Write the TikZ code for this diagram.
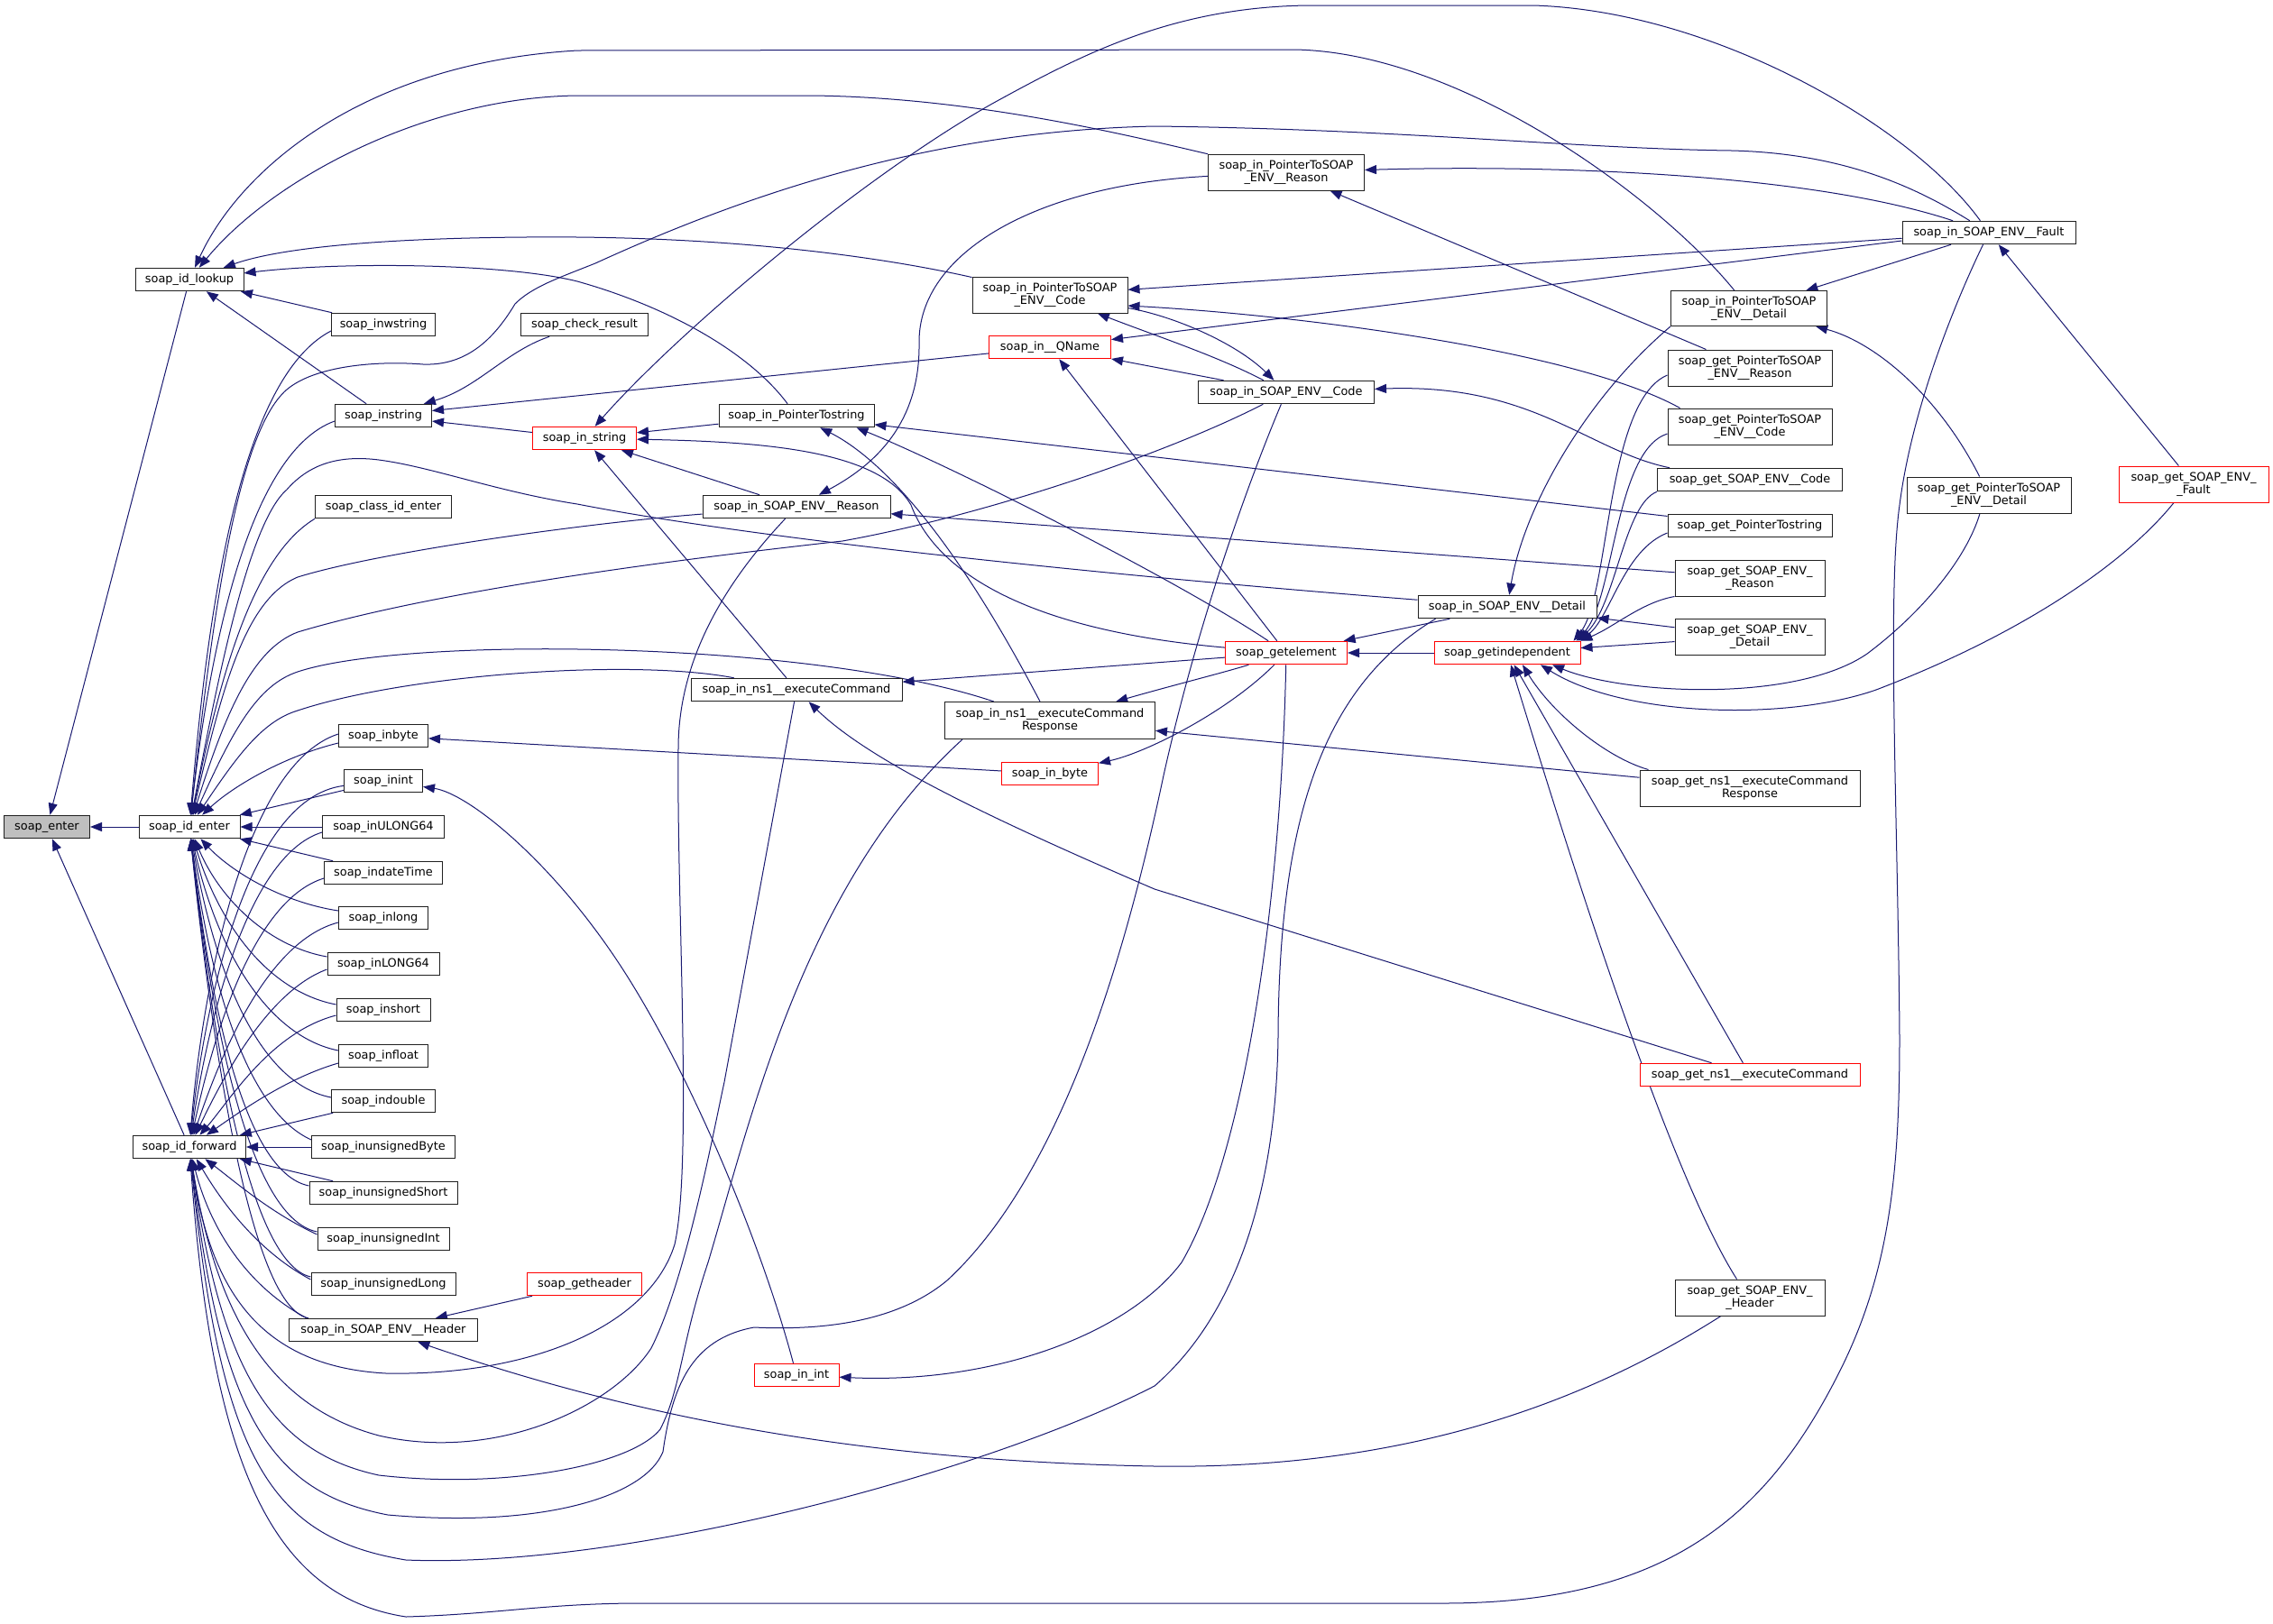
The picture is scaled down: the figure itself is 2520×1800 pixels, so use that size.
\documentclass[tikz,border=0pt]{standalone}
\usepackage{fontspec}
\setmainfont{DejaVu Sans}
\usetikzlibrary{arrows.meta}
\definecolor{ecol}{HTML}{191970}
\definecolor{gfill}{HTML}{BFBFBF}
\definecolor{bcol}{HTML}{202020}
\pgfdeclarelayer{bg}
\pgfsetlayers{bg,main}
\tikzset{
  fn/.style={draw=bcol, fill=white, line width=1pt, inner sep=0pt, minimum height=25.5pt, align=center, font=\fontsize{12.9}{14.5}\selectfont},
  fnt/.style={fn, minimum height=40pt},
  rd/.style={draw=red},
  edg/.style={draw=ecol, line width=1pt, {Triangle[length=13pt,width=10pt]}-},
}
\begin{document}
\begin{tikzpicture}[x=1pt,y=-1pt]
\useasboundingbox (0,0) rectangle (2520,1800);
% column 1-2
\node[fn,fill=gfill,minimum width=95pt] (enter) at (52,917) {soap\_enter};
\node[fn,minimum width=120pt] (lookup) at (210,310) {soap\_id\_lookup};
\node[fn,minimum width=112pt] (identer) at (210,917) {soap\_id\_enter};
\node[fn,minimum width=125pt] (idfwd) at (210,1272) {soap\_id\_forward};
% column 3
\node[fn,minimum width=115pt] (inwstring) at (425,360) {soap\_inwstring};
\node[fn,minimum width=107pt] (instring) at (425,461) {soap\_instring};
\node[fn,minimum width=151pt] (classid) at (425,562) {soap\_class\_id\_enter};
\node[fn,minimum width=99pt] (inbyte) at (425,816) {soap\_inbyte};
\node[fn,minimum width=87pt] (inint) at (425,866) {soap\_inint};
\node[fn,minimum width=135pt] (inULONG) at (425,917) {soap\_inULONG64};
\node[fn,minimum width=131pt] (indateTime) at (425,968) {soap\_indateTime};
\node[fn,minimum width=99pt] (inlong) at (425,1018) {soap\_inlong};
\node[fn,minimum width=124pt] (inLONG) at (425,1069) {soap\_inLONG64};
\node[fn,minimum width=104pt] (inshort) at (425,1120) {soap\_inshort};
\node[fn,minimum width=99pt] (infloat) at (425,1171) {soap\_infloat};
\node[fn,minimum width=115pt] (indouble) at (425,1221) {soap\_indouble};
\node[fn,minimum width=159pt] (inuByte) at (425,1272) {soap\_inunsignedByte};
\node[fn,minimum width=164pt] (inuShort) at (425,1323) {soap\_inunsignedShort};
\node[fn,minimum width=146pt] (inuInt) at (425,1374) {soap\_inunsignedInt};
\node[fn,minimum width=160pt] (inuLong) at (425,1424) {soap\_inunsignedLong};
\node[fn,minimum width=209pt] (inHeader) at (425,1475) {soap\_in\_SOAP\_ENV\_\_Header};
% column 4
\node[fn,minimum width=141pt] (checkres) at (648,360) {soap\_check\_result};
\node[fn,rd,minimum width=115pt] (instr) at (648,486) {soap\_in\_string};
\node[fn,rd,minimum width=127pt] (getheader) at (648,1424) {soap\_getheader};
% column 5
\node[fn,minimum width=172pt] (inPtrStr) at (883,461) {soap\_in\_PointerTostring};
\node[fn,minimum width=208pt] (inReason) at (883,562) {soap\_in\_SOAP\_ENV\_\_Reason};
\node[fn,minimum width=234pt] (inExec) at (883,765) {soap\_in\_ns1\_\_executeCommand};
\node[fn,rd,minimum width=94pt] (xInt) at (883,1525) {soap\_in\_int};
% column 6
\node[fnt,minimum width=172pt] (inPtrCode) at (1164,327) {soap\_in\_PointerToSOAP\\\_ENV\_\_Code};
\node[fn,rd,minimum width=135pt] (inQName) at (1164,385) {soap\_in\_\_QName};
\node[fnt,minimum width=233pt,minimum height=41pt] (inExecResp) at (1164,799) {soap\_in\_ns1\_\_executeCommand\\Response};
\node[fn,rd,minimum width=107pt] (xByte) at (1164,858) {soap\_in\_byte};
% column 7
\node[fnt,minimum width=173pt] (inPtrReason) at (1426,191) {soap\_in\_PointerToSOAP\\\_ENV\_\_Reason};
\node[fn,minimum width=195pt] (inCode) at (1426,435) {soap\_in\_SOAP\_ENV\_\_Code};
\node[fn,rd,minimum width=135pt] (getelem) at (1426,724) {soap\_getelement};
% column 8
\node[fn,minimum width=198pt] (inDetail) at (1671,673) {soap\_in\_SOAP\_ENV\_\_Detail};
\node[fn,rd,minimum width=162pt] (getindep) at (1671,724) {soap\_getindependent};
% column 9
\node[fnt,minimum width=173pt,minimum height=39pt] (inPtrDetail) at (1939,342) {soap\_in\_PointerToSOAP\\\_ENV\_\_Detail};
\node[fnt,minimum width=182pt] (getPtrReason) at (1940,408) {soap\_get\_PointerToSOAP\\\_ENV\_\_Reason};
\node[fnt,minimum width=182pt] (getPtrCode) at (1940,473) {soap\_get\_PointerToSOAP\\\_ENV\_\_Code};
\node[fn,minimum width=205pt] (getCode) at (1940,532) {soap\_get\_SOAP\_ENV\_\_Code};
\node[fn,minimum width=182pt] (getPtrStr) at (1940,583) {soap\_get\_PointerTostring};
\node[fnt,minimum width=166pt] (getReason) at (1940,641) {soap\_get\_SOAP\_ENV\_\\\_Reason};
\node[fnt,minimum width=166pt] (getDetail) at (1940,706) {soap\_get\_SOAP\_ENV\_\\\_Detail};
\node[fnt,minimum width=244pt] (getExecResp) at (1940,874) {soap\_get\_ns1\_\_executeCommand\\Response};
\node[fn,rd,minimum width=244pt] (getExec) at (1940,1192) {soap\_get\_ns1\_\_executeCommand};
\node[fnt,minimum width=166pt] (getHeader) at (1940,1439) {soap\_get\_SOAP\_ENV\_\\\_Header};
% column 10-11
\node[fn,minimum width=192pt] (inFault) at (2205,258) {soap\_in\_SOAP\_ENV\_\_Fault};
\node[fnt,minimum width=182pt] (getPtrDetail) at (2205,549) {soap\_get\_PointerToSOAP\\\_ENV\_\_Detail};
\node[fnt,rd,minimum width=166pt] (getFault) at (2432,537) {soap\_get\_SOAP\_ENV\_\\\_Fault};

\begin{pgfonlayer}{bg}
\fill[white] (0,0) rectangle (2520,1800);
% soap_enter
\draw[edg] (enter) -- (lookup);
\draw[edg] (enter) -- (identer);
\draw[edg] (enter) -- (idfwd);
% soap_id_lookup
\draw[edg] (lookup) .. controls (265,190) and (400,70) .. (640,56) -- (1435,55) .. controls (1620,58) and (1840,220) .. (inPtrDetail);
\draw[edg] (lookup) .. controls (300,200) and (470,108) .. (640,106) -- (900,106) .. controls (1080,108) and (1250,150) .. (inPtrReason);
\draw[edg] (lookup) .. controls (330,268) and (500,262) .. (640,263) .. controls (850,265) and (1000,290) .. (inPtrCode);
\draw[edg] (lookup) .. controls (380,290) and (560,292) .. (640,312) .. controls (740,340) and (830,390) .. (inPtrStr);
\draw[edg] (lookup) -- (inwstring);
\draw[edg] (lookup) -- (instring);
% soap_id_enter
\draw[edg] (identer) .. controls (230,680) and (265,420) .. ([yshift=-7pt]inwstring.west);
\draw[edg] (identer) .. controls (235,700) and (280,500) .. ([yshift=-6pt]instring.west);
\draw[edg] (identer) .. controls (240,770) and (275,620) .. (classid.south west);
\draw[edg] (identer) .. controls (235,690) and (262,480) .. (318,432) .. controls (350,405) and (420,400) .. (469,404) .. controls (520,406) and (550,372) .. (571,337) .. controls (590,318) and (620,308) .. (660,292) .. controls (850,205) and (1050,145) .. (1280,140) .. controls (1550,143) and (1750,165) .. (1920,167) .. controls (2040,170) and (2120,205) .. (inFault);
\draw[edg] (identer) .. controls (240,760) and (275,580) .. (318,543) .. controls (345,512) and (380,505) .. (420,510) .. controls (480,518) and (550,545) .. (640,559) .. controls (850,600) and (1250,640) .. (inDetail);
\draw[edg] (identer) .. controls (245,770) and (270,665) .. (330,640) .. controls (420,612) and (650,580) .. (inReason);
\draw[edg] (identer) .. controls (250,790) and (280,720) .. (330,701) .. controls (500,650) and (800,615) .. (934,600) .. controls (1100,570) and (1300,500) .. (inCode);
\draw[edg] (identer) .. controls (258,810) and (285,760) .. (330,745) .. controls (450,705) and (900,710) .. (inExecResp);
\draw[edg] (identer) .. controls (262,840) and (290,800) .. (330,788) .. controls (450,748) and (700,730) .. (inExec);
\draw[edg] (identer) .. controls (255,875) and (310,840) .. ([yshift=-8pt]inbyte.west);
\draw[edg] (identer) -- (inint);
\draw[edg] (identer) -- (inULONG);
\draw[edg] (identer) -- (indateTime);
\draw[edg] (identer) .. controls (255,965) and (310,1000) .. ([yshift=8pt]inlong.west);
\draw[edg] (identer) .. controls (245,1000) and (300,1050) .. ([yshift=8pt]inLONG.west);
\draw[edg] (identer) .. controls (245,1030) and (300,1100) .. ([yshift=6pt]inshort.west);
\draw[edg] (identer) .. controls (242,1060) and (300,1150) .. ([yshift=6pt]infloat.west);
\draw[edg] (identer) .. controls (235,1060) and (280,1200) .. ([yshift=4pt]indouble.west);
\draw[edg] (identer) .. controls (232,1080) and (270,1230) .. ([yshift=8pt]inuByte.west);
\draw[edg] (identer) .. controls (232,1100) and (268,1300) .. ([yshift=8pt]inuShort.west);
\draw[edg] (identer) .. controls (232,1110) and (272,1350) .. ([yshift=8pt]inuInt.west);
\draw[edg] (identer) .. controls (232,1120) and (272,1400) .. ([yshift=8pt]inuLong.west);
\draw[edg] (identer) .. controls (232,1130) and (275,1450) .. ([xshift=22pt]inHeader.north west);
% soap_id_forward
\draw[edg] (idfwd) .. controls (222,1120) and (265,850) .. ([yshift=2pt]inbyte.west);
\draw[edg] (idfwd) .. controls (225,1130) and (270,885) .. (inint);
\draw[edg] (idfwd) .. controls (228,1150) and (270,950) .. ([yshift=-6pt]inULONG.west);
\draw[edg] (idfwd) .. controls (232,1170) and (275,1000) .. ([yshift=-6pt]indateTime.west);
\draw[edg] (idfwd) .. controls (238,1190) and (290,1045) .. ([yshift=-5pt]inlong.west);
\draw[edg] (idfwd) .. controls (245,1200) and (295,1100) .. ([yshift=-6pt]inLONG.west);
\draw[edg] (idfwd) .. controls (255,1220) and (300,1145) .. ([yshift=-6pt]inshort.west);
\draw[edg] (idfwd) .. controls (270,1230) and (320,1195) .. ([yshift=-8pt]infloat.west);
\draw[edg] (idfwd) -- (indouble);
\draw[edg] (idfwd) -- (inuByte);
\draw[edg] (idfwd) -- (inuShort);
\draw[edg] (idfwd) .. controls (260,1310) and (300,1345) .. ([yshift=5pt]inuInt.west);
\draw[edg] (idfwd) .. controls (250,1340) and (290,1390) .. ([yshift=5pt]inuLong.west);
\draw[edg] (idfwd) .. controls (235,1370) and (280,1430) .. ([xshift=20pt]inHeader.north west);
\draw[edg] (idfwd) .. controls (232,1420) and (280,1515) .. (428,1523) .. controls (590,1526) and (720,1470) .. (748,1380) .. controls (768,1290) and (750,1000) .. (752,830) .. controls (752,730) and (805,645) .. (inReason);
\draw[edg] (idfwd) .. controls (240,1460) and (300,1560) .. (420,1592) .. controls (550,1622) and (680,1560) .. (722,1495) .. controls (760,1420) and (790,1260) .. (803,1200) -- (inExec);
\draw[edg] (idfwd) .. controls (245,1520) and (300,1610) .. (420,1636) .. controls (560,1652) and (700,1625) .. (732,1585) .. controls (755,1540) and (755,1490) .. (785,1400) .. controls (830,1250) and (890,980) .. ([xshift=20pt]inExecResp.south west);
\draw[edg] (idfwd) .. controls (245,1570) and (300,1655) .. (430,1680) .. controls (600,1695) and (715,1660) .. (735,1610) .. controls (745,1540) and (765,1485) .. (836,1472) .. controls (900,1475) and (990,1470) .. (1050,1420) .. controls (1180,1300) and (1250,1050) .. (1290,860) .. controls (1330,680) and (1390,520) .. (inCode);
\draw[edg] (idfwd) .. controls (245,1620) and (300,1705) .. (450,1730) .. controls (700,1740) and (1100,1630) .. (1280,1537) .. controls (1380,1450) and (1415,1300) .. (1417,1150) .. controls (1418,900) and (1470,760) .. ([xshift=20pt]inDetail.south west);
\draw[edg] (idfwd) .. controls (235,1620) and (300,1770) .. (450,1793) .. controls (550,1790) and (600,1779) .. (700,1778) -- (1600,1778) .. controls (1850,1778) and (1960,1680) .. (2040,1520) .. controls (2095,1410) and (2106,1300) .. (2106,1150) .. controls (2104,900) and (2092,660) .. (2106,560) .. controls (2120,450) and (2170,330) .. (inFault);
% header
\draw[edg] (inHeader) -- (getheader);
\draw[edg] (inHeader) .. controls (700,1570) and (950,1620) .. (1280,1626) .. controls (1550,1630) and (1750,1560) .. (getHeader);
% soap_instring
\draw[edg] (instring) .. controls (530,430) and (560,390) .. (checkres);
\draw[edg] (instring) -- (inQName);
\draw[edg] (instring) -- (instr);
% soap_in_string
\draw[edg] (instr) .. controls (750,370) and (950,200) .. (1100,115) .. controls (1200,60) and (1300,8) .. (1450,6) -- (1700,6) .. controls (1900,12) and (2120,140) .. (inFault);
\draw[edg] (instr) -- (inPtrStr);
\draw[edg] (instr) .. controls (850,490) and (975,500) .. (1010,560) .. controls (1040,640) and (1150,700) .. (getelem);
\draw[edg] (instr) -- (inReason);
\draw[edg] (instr) -- (inExec);
% soap_in_PointerTostring
\draw[edg] ([xshift=-20pt]inPtrStr.south east) .. controls (1050,515) and (1300,640) .. (getelem);
\draw[edg] (inPtrStr) .. controls (980,510) and (1060,600) .. (inExecResp);
\draw[edg] (inPtrStr) -- (getPtrStr);
% soap_in_SOAP_ENV__Reason
\draw[edg] (inReason) .. controls (990,505) and (1020,450) .. (1019,380) .. controls (1018,280) and (1150,205) .. (inPtrReason);
\draw[edg] (inReason) -- (getReason);
% executeCommand
\draw[edg] (inExec) -- (getelem);
\draw[edg] (inExec) .. controls (960,840) and (1080,900) .. (1280,986) -- (getExec);
\draw[edg] (inExecResp) .. controls (1300,760) and (1360,745) .. (getelem);
\draw[edg] (inExecResp) -- (getExecResp);
% byte / int
\draw[edg] (inbyte) -- (xByte);
\draw[edg] (xByte) .. controls (1270,835) and (1360,790) .. (getelem);
\draw[edg] (inint) .. controls (520,880) and (620,960) .. (700,1090) .. controls (780,1220) and (850,1400) .. (xInt);
\draw[edg] (xInt) .. controls (1100,1535) and (1250,1480) .. (1310,1400) .. controls (1380,1280) and (1420,1000) .. (getelem);
% getelement
\draw[edg] (getelem) -- (getindep);
\draw[edg] (getelem) -- (inDetail);
% QName
\draw[edg] (inQName) -- ([yshift=-9pt]inFault.west);
\draw[edg] (inQName) -- (inCode);
\draw[edg] (inQName) -- (getelem);
% PointerToSOAP_ENV__Code / SOAP_ENV__Code
\draw[edg] (inPtrCode) -- (inFault);
\draw[edg] ([yshift=-12pt]inPtrCode.east) .. controls (1450,350) and (1750,390) .. ([xshift=14pt]getPtrCode.north west);
\draw[edg] (inPtrCode) .. controls (1280,372) and (1350,395) .. (inCode);
\draw[edg] (inCode) .. controls (1370,380) and (1300,350) .. (inPtrCode);
\draw[edg] (inCode) .. controls (1700,425) and (1760,500) .. ([xshift=14pt]getCode.north west);
% PointerToSOAP_ENV__Reason
\draw[edg] (inPtrReason) .. controls (1700,183) and (2000,190) .. (inFault);
\draw[edg] (inPtrReason) -- (getPtrReason);
% Detail
\draw[edg] (inPtrDetail) -- (inFault);
\draw[edg] (inPtrDetail) .. controls (2080,380) and (2150,440) .. (getPtrDetail);
\draw[edg] (inDetail) .. controls (1690,560) and (1760,440) .. (inPtrDetail.south west);
\draw[edg] (inDetail) -- (getDetail);
% soap_getindependent
\draw[edg] ([xshift=-8pt]getindep.north east) .. controls (1785,660) and (1780,445) .. ([yshift=-8pt]getPtrReason.west);
\draw[edg] ([xshift=-5pt]getindep.north east) .. controls (1790,665) and (1790,500) .. ([yshift=-8pt]getPtrCode.west);
\draw[edg] ([xshift=-3pt]getindep.north east) .. controls (1792,670) and (1800,560) .. (getCode.south west);
\draw[edg] ([xshift=-1pt]getindep.north east) .. controls (1785,685) and (1800,610) .. ([yshift=-8pt]getPtrStr.west);
\draw[edg] (getindep.north east) .. controls (1790,695) and (1820,668) .. (getReason.south west);
\draw[edg] (getindep) -- (getDetail);
\draw[edg] ([xshift=17pt]getindep.south) .. controls (1720,790) and (1780,840) .. ([xshift=10pt]getExecResp.north west);
\draw[edg] (getindep) -- (getExec);
\draw[edg] (getindep) .. controls (1740,950) and (1850,1300) .. ([xshift=69pt]getHeader.north west);
\draw[edg] ([xshift=50pt]getindep.south) .. controls (1800,770) and (1990,780) .. (2070,725) .. controls (2130,680) and (2180,620) .. ([xshift=-10pt]getPtrDetail.south);
\draw[edg] ([xshift=37pt]getindep.south) .. controls (1800,795) and (1980,800) .. (2080,765) .. controls (2250,700) and (2360,620) .. ([xshift=-22pt]getFault.south);
% Fault
\draw[edg] (inFault) -- (getFault);
\end{pgfonlayer}
\end{tikzpicture}
\end{document}
